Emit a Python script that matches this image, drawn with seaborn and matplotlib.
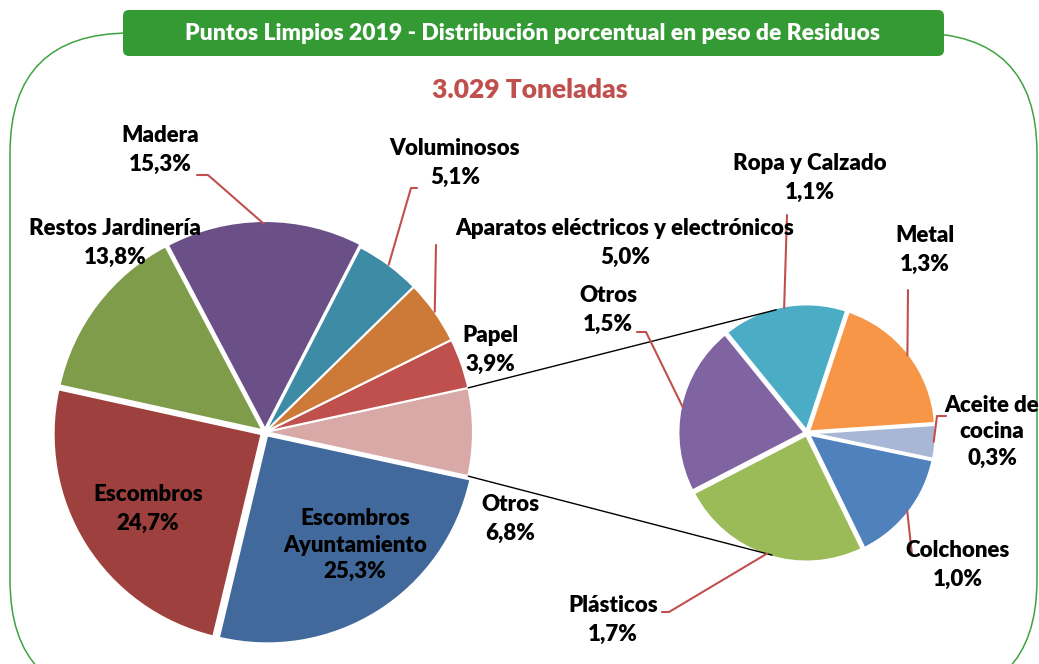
import matplotlib
matplotlib.use('Agg')
import matplotlib.pyplot as plt
from matplotlib.patches import FancyBboxPatch
import seaborn as sns
import numpy as np

# datos
main_labels = ['Otros', 'Papel', 'Aparatos eléctricos y electrónicos', 'Voluminosos',
               'Madera', 'Restos Jardinería', 'Escombros', 'Escombros\nAyuntamiento']
main_values = [6.8, 3.9, 5.0, 5.1, 15.3, 13.8, 24.7, 25.3]
sub_labels = ['Aceite de\ncocina', 'Metal', 'Ropa y Calzado', 'Otros', 'Plásticos', 'Colchones']
sub_values = [0.3, 1.3, 1.1, 1.5, 1.7, 1.0]
title = 'Puntos Limpios 2019 - Distribución porcentual en peso de Residuos'
subtitle = '3.029 Toneladas'

main_colors = sns.color_palette(['#D9A9A8', '#C0504D', '#CD7A38', '#3E8BA6',
                                 '#6A5087', '#7F9C4A', '#9E413E', '#41699C'])
sub_colors = sns.color_palette(['#A8B7D6', '#F79646', '#4BACC6', '#8064A2', '#9BBB59', '#4F81BD'])

sns.set_theme(style='white')
plt.rcParams['font.family'] = ['Lato', 'DejaVu Sans']

W, H = 1039, 664
fig = plt.figure(figsize=(W / 100, H / 100), dpi=100)
ax = fig.add_axes([0, 0, 1, 1])


def Y(y):
    # coordenadas de pixel con y hacia abajo
    return H - y


def fmt(v):
    return f'{v:.1f}'.replace('.', ',') + '%'


# borde redondeado y título
ax.add_patch(FancyBboxPatch((10, Y(700)), 1027, 667, boxstyle='round,pad=0,rounding_size=120',
                            fill=False, edgecolor='#3FA33F', linewidth=1.1, zorder=0))
ax.add_patch(FancyBboxPatch((123, Y(56)), 821, 46, boxstyle='round,pad=0,rounding_size=6',
                            facecolor='#349A34', edgecolor='none', zorder=1))
ax.text(533, Y(34), title, color='white', fontsize=16.5, fontweight='heavy',
        ha='center', va='center', zorder=2)
ax.text(530, Y(90), subtitle, color='#C0504D', fontsize=19, fontweight='heavy',
        ha='center', va='center')

# pie principal
main_c = (265, Y(432))
main_r = 208
start_main = -main_values[0] / sum(main_values) * 180
wedges_main, _ = ax.pie(main_values, colors=main_colors, startangle=start_main,
                        center=main_c, radius=main_r, frame=True,
                        explode=[0, 0, 0, 0, 3, 3, 4, 4],
                        wedgeprops=dict(edgecolor='white', linewidth=1.5))

# pie secundario
sub_c = (807, Y(433))
sub_r = 127
wedges_sub, _ = ax.pie(sub_values, colors=sub_colors, startangle=-11.8,
                       center=sub_c, radius=sub_r, frame=True,
                       explode=[2] * len(sub_values),
                       wedgeprops=dict(edgecolor='white', linewidth=2))


def edge_point(c, r, ang):
    a = np.deg2rad(ang)
    return c[0] + r * np.cos(a), c[1] + r * np.sin(a)


# líneas de conexión
w0 = wedges_main[0]
for a_main, a_sub in [(w0.theta2, 104), (w0.theta1, 254)]:
    p1 = edge_point(main_c, main_r, a_main)
    p2 = edge_point(sub_c, sub_r, a_sub)
    ax.plot([p1[0], p2[0]], [p1[1], p2[1]], color='black', lw=1, zorder=3)

# etiquetas: posición del texto y tramo inicial de la línea guía (pixeles)
main_text_pos = {0: (510, 519), 1: (490, 350), 2: (625, 243), 3: (455, 163),
                 4: (160, 150), 5: (115, 243), 6: (148, 509), 7: (355, 545)}
main_leaders = {2: [(436, 245)], 3: [(417, 188), (411, 188)], 4: [(197, 175), (208, 175)]}
sub_text_pos = {0: (992, 432), 1: (925, 250), 2: (810, 178), 3: (608, 310),
                4: (613, 620), 5: (958, 565)}
sub_leaders = {0: [(946, 416), (937, 416)], 1: [(908, 290)], 2: [(787, 215)],
               3: [(637, 332), (646, 332)], 4: [(662, 612), (669, 612)], 5: [(912, 555)]}

lead_color = '#C0504D'


def draw_labels(labels, values, wedges, c, r, text_pos, leaders, size):
    for i, (lab, v) in enumerate(zip(labels, values)):
        x, y = text_pos[i]
        ls = 1.3 if lab.count('\n') else 1.45
        ax.text(x, Y(y), f'{lab}\n{fmt(v)}', fontsize=size, fontweight='heavy', color='black',
                ha='center', va='center', linespacing=ls, zorder=4)
        if i in leaders:
            w = wedges[i]
            pts = [(px, Y(py)) for px, py in leaders[i]]
            pts.append(edge_point(c, r, (w.theta1 + w.theta2) / 2))
            xs, ys = zip(*pts)
            ax.plot(xs, ys, color=lead_color, lw=1.5, zorder=3)


draw_labels(main_labels, main_values, wedges_main, main_c, main_r, main_text_pos, main_leaders, 16)
draw_labels(sub_labels, sub_values, wedges_sub, sub_c, sub_r, sub_text_pos, sub_leaders, 16)

ax.set_xlim(0, W)
ax.set_ylim(0, H)
ax.set_aspect('auto')
ax.axis('off')

fig.savefig('out.png', dpi=100)
